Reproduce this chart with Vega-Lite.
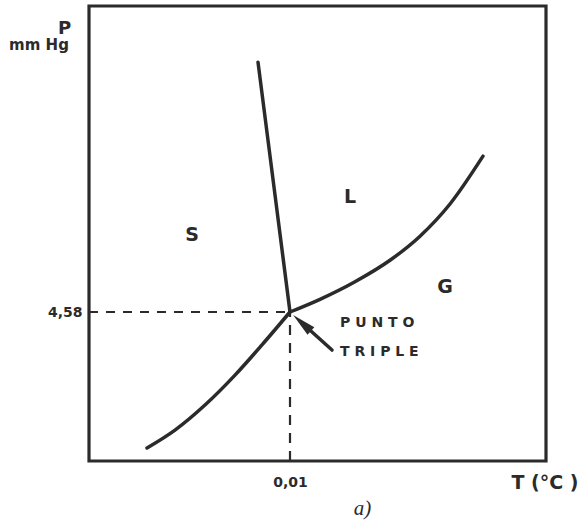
{
  "$schema": "https://vega.github.io/schema/vega-lite/v6.json",
  "width": 457,
  "height": 455,
  "autosize": {"type": "none"},
  "padding": {"left": 89, "top": 6, "right": 32, "bottom": 65},
  "background": "white",
  "config": {
    "view": {"stroke": "#2b2b2b", "strokeWidth": 3.2},
    "font": "DejaVu Sans"
  },
  "title": {
    "text": "a)",
    "orient": "bottom",
    "anchor": "middle",
    "frame": "group",
    "dx": 45,
    "offset": 6,
    "font": "Liberation Serif",
    "fontStyle": "italic",
    "fontWeight": "normal",
    "fontSize": 21,
    "color": "#2b2b2b"
  },
  "datasets": {
    "melting": [
      {"T": -3.19, "P": 12.26},
      {"T": 0.01, "P": 4.58}
    ],
    "sublimation": [
      {"T": -14.29, "P": 0.40},
      {"T": -11.49, "P": 0.95},
      {"T": -8.49, "P": 1.72},
      {"T": -5.49, "P": 2.64},
      {"T": -2.79, "P": 3.57},
      {"T": 0.01, "P": 4.58}
    ],
    "vaporization": [
      {"T": 0.01, "P": 4.58},
      {"T": 3.01, "P": 4.97},
      {"T": 6.51, "P": 5.51},
      {"T": 10.01, "P": 6.17},
      {"T": 13.01, "P": 6.91},
      {"T": 16.01, "P": 7.90},
      {"T": 19.31, "P": 9.37}
    ],
    "guideP": [
      {"T": -20.09, "P": 4.58},
      {"T": 0.01, "P": 4.58}
    ],
    "guideT": [
      {"T": 0.01, "P": 0},
      {"T": 0.01, "P": 4.58}
    ],
    "pointer": [
      {"T": 4.21, "P": 3.41},
      {"T": 1.21, "P": 4.24}
    ],
    "phases": [
      {"T": -9.79, "P": 6.95, "label": "S"},
      {"T": 6.01, "P": 8.11, "label": "L"},
      {"T": 15.51, "P": 5.35, "label": "G"}
    ],
    "notes": [
      {"T": 5.01, "P": 4.24, "label": "P U N T O"},
      {"T": 5.01, "P": 3.35, "label": "T R I P L E"}
    ],
    "units": [
      {"T": -25.09, "P": 12.78, "label": "mm Hg"}
    ]
  },
  "encoding": {
    "x": {
      "field": "T",
      "type": "quantitative",
      "scale": {"domain": [-20.09, 25.61], "nice": false, "zero": false},
      "axis": {
        "values": [0.01],
        "labelExpr": "replace(format(datum.value, '.2f'), '.', ',')",
        "grid": false,
        "domain": false,
        "ticks": false,
        "labelPadding": 14,
        "labelFont": "DejaVu Sans",
        "labelFontWeight": "bold",
        "labelFontSize": 14,
        "labelColor": "#2b2b2b",
        "title": "T (°C )",
        "titleFont": "DejaVu Sans",
        "titleFontWeight": "bold",
        "titleFontSize": 19,
        "titleColor": "#2b2b2b",
        "titleAlign": "right",
        "titleAnchor": null,
        "titleBaseline": "middle",
        "titleX": 489,
        "titleY": 21
      }
    },
    "y": {
      "field": "P",
      "type": "quantitative",
      "scale": {"domain": [0, 13.986], "nice": false, "zero": false},
      "axis": {
        "values": [4.58],
        "labelExpr": "replace(format(datum.value, '.2f'), '.', ',')",
        "grid": false,
        "domain": false,
        "ticks": false,
        "labelPadding": 7,
        "labelFont": "DejaVu Sans",
        "labelFontWeight": "bold",
        "labelFontSize": 14,
        "labelColor": "#2b2b2b",
        "title": "P",
        "titleFont": "DejaVu Sans",
        "titleFontWeight": "bold",
        "titleFontSize": 18,
        "titleColor": "#2b2b2b",
        "titleAngle": 0,
        "titleAlign": "center",
        "titleAnchor": null,
        "titleBaseline": "middle",
        "titleX": -25,
        "titleY": 22
      }
    }
  },
  "layer": [
    {
      "data": {"name": "guideP"},
      "mark": {"type": "line", "stroke": "#2b2b2b", "strokeWidth": 2.2, "strokeDash": [9, 8], "clip": false},
      "encoding": {}
    },
    {
      "data": {"name": "guideT"},
      "mark": {"type": "line", "stroke": "#2b2b2b", "strokeWidth": 2.2, "strokeDash": [10, 8], "clip": false},
      "encoding": {}
    },
    {
      "data": {"name": "melting"},
      "mark": {"type": "line", "stroke": "#2b2b2b", "strokeWidth": 3.5, "strokeCap": "round"},
      "encoding": {}
    },
    {
      "data": {"name": "sublimation"},
      "mark": {"type": "line", "stroke": "#2b2b2b", "strokeWidth": 3.5, "strokeCap": "round", "interpolate": "monotone"},
      "encoding": {}
    },
    {
      "data": {"name": "vaporization"},
      "mark": {"type": "line", "stroke": "#2b2b2b", "strokeWidth": 3.5, "strokeCap": "round", "interpolate": "monotone"},
      "encoding": {}
    },
    {
      "data": {"name": "pointer"},
      "mark": {"type": "line", "stroke": "#2b2b2b", "strokeWidth": 3.5, "strokeCap": "round"},
      "encoding": {}
    },
    {
      "data": {"values": [{"T": 1.21, "P": 4.24}]},
      "mark": {
        "type": "point",
        "shape": "M0,-1L0.42,1L-0.42,1Z",
        "filled": true,
        "color": "#2b2b2b",
        "opacity": 1,
        "size": 576,
        "angle": 312
      },
      "encoding": {}
    },
    {
      "data": {"name": "phases"},
      "mark": {"type": "text", "font": "DejaVu Sans", "fontWeight": "bold", "fontSize": 19, "color": "#2b2b2b", "align": "center", "baseline": "middle"},
      "encoding": {"text": {"field": "label"}}
    },
    {
      "data": {"name": "notes"},
      "mark": {"type": "text", "font": "DejaVu Sans", "fontWeight": "bold", "fontSize": 14, "color": "#2b2b2b", "align": "left", "baseline": "middle"},
      "encoding": {"text": {"field": "label"}}
    },
    {
      "data": {"name": "units"},
      "mark": {"type": "text", "font": "DejaVu Sans", "fontWeight": "bold", "fontSize": 15, "color": "#2b2b2b", "align": "center", "baseline": "middle", "clip": false},
      "encoding": {"text": {"field": "label"}}
    }
  ]
}
